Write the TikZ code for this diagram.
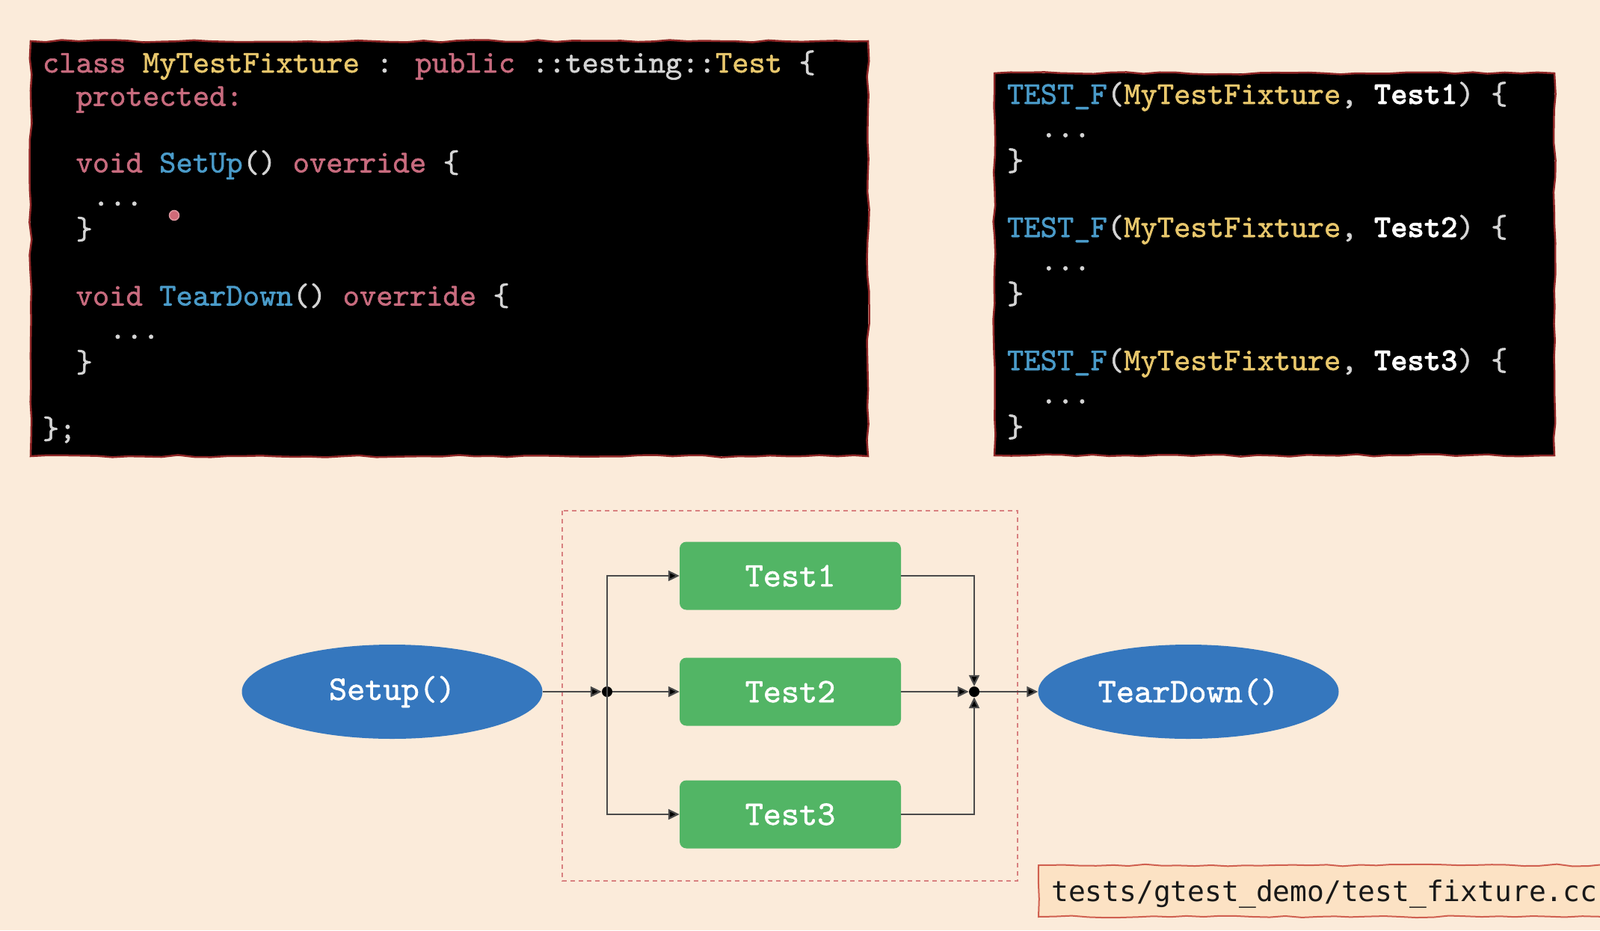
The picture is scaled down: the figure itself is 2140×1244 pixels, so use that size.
\documentclass[tikz,border=0pt]{standalone}
\usepackage{fontspec}
\usetikzlibrary{shapes.geometric,arrows.meta,decorations.pathmorphing}
\newfontfamily\codefont[FakeBold=1.3, BoldFont=lmmonolt10-bold.otf, BoldFeatures={FakeBold=1.6}]{lmmono10-regular.otf}
\newfontfamily\pathfont{DejaVu Sans Mono}
\definecolor{bgc}{HTML}{FBEBDA}
\definecolor{kwc}{HTML}{C86B7E}
\definecolor{tyc}{HTML}{E8C76C}
\definecolor{fnc}{HTML}{4A9BC9}
\definecolor{plc}{HTML}{D4D4D4}
\definecolor{roughc}{HTML}{8E2626}
\definecolor{greenc}{HTML}{52B565}
\definecolor{bluec}{HTML}{3577BE}
\definecolor{dashc}{HTML}{D88080}
\definecolor{linec}{HTML}{4A4A4A}
\definecolor{labelfill}{HTML}{FCE2C4}
\definecolor{labeledge}{HTML}{D06050}
\definecolor{laserc}{HTML}{D06A78}
\newcommand{\kw}[1]{\textcolor{kwc}{#1}}
\newcommand{\ty}[1]{\textcolor{tyc}{#1}}
\newcommand{\fnn}[1]{\textcolor{fnc}{#1}}
\newcommand{\pl}[1]{\textcolor{plc}{#1}}
\newcommand{\tn}[1]{\textcolor{white}{\bfseries #1}}
\tikzset{
  codeline/.style={anchor=base west, inner sep=0pt, outer sep=0pt,
    font=\codefont\fontsize{42.5}{48}\selectfont},
  rough/.style={draw=roughc, line width=2.5pt,
    decorate, decoration={random steps, segment length=22pt, amplitude=1.6pt}},
  testbox/.style={rectangle, rounded corners=9pt, fill=greenc, text=white,
    minimum width=296pt, minimum height=91pt, inner sep=0pt,
    font=\codefont\fontsize{46}{52}\selectfont},
  fnell/.style={ellipse, fill=bluec, text=white, minimum width=402pt,
    minimum height=126pt, inner sep=0pt,
    font=\codefont\fontsize{46}{52}\selectfont},
  jdot/.style={circle, fill=black, inner sep=0pt, minimum size=14pt},
  conn/.style={draw=linec, line width=2.2pt,
    -{Triangle[length=15pt,width=14pt,fill=black]}},
}
\begin{document}
\begin{tikzpicture}[x=1pt,y=-1pt]
\clip (0,0) rectangle (2140,1244);
\fill[bgc] (0,0) rectangle (2140,1244);

% left code box
\fill[black] (41,55) rectangle (1161,610);
\draw[rough] (41,55) rectangle (1161,610);
\node[codeline] (l0) at (57,97) {\kw{class} \ty{MyTestFixture} \pl{:} \kw{public} \pl{::testing::}\ty{Test} \pl{\{}};
\node[codeline] (l1) at (101.6,141.5) {\kw{protected:}};
\node[codeline] (l3) at (101.6,230.5) {\kw{void} \fnn{SetUp}\pl{()} \kw{override} \pl{\{}};
\node[codeline] (l4) at (124,275) {\pl{...}};
\node[codeline] (l5) at (101.6,319.5) {\pl{\}}};
\node[codeline] (l7) at (101.6,408.5) {\kw{void} \fnn{TearDown}\pl{()} \kw{override} \pl{\{}};
\node[codeline] (l8) at (146.3,453) {\pl{...}};
\node[codeline] (l9) at (101.6,497.5) {\pl{\}}};
\node[codeline] (l11) at (57,586.5) {\pl{\};}};
\node[circle, fill=laserc, draw=laserc!70!white, line width=1.5pt, minimum size=13pt, inner sep=0pt] (laser) at (233,288) {};

% right code box
\fill[black] (1330,98) rectangle (2079,609);
\draw[rough] (1330,98) rectangle (2079,609);
\node[codeline] (r0) at (1347,139) {\fnn{TEST\_F}\pl{(}\ty{MyTestFixture}\pl{,} \tn{Test1}\pl{)} \pl{\{}};
\node[codeline] (r1) at (1391.6,183.5) {\pl{...}};
\node[codeline] (r2) at (1347,228) {\pl{\}}};
\node[codeline] (r4) at (1347,317) {\fnn{TEST\_F}\pl{(}\ty{MyTestFixture}\pl{,} \tn{Test2}\pl{)} \pl{\{}};
\node[codeline] (r5) at (1391.6,361.5) {\pl{...}};
\node[codeline] (r6) at (1347,406) {\pl{\}}};
\node[codeline] (r8) at (1347,495) {\fnn{TEST\_F}\pl{(}\ty{MyTestFixture}\pl{,} \tn{Test3}\pl{)} \pl{\{}};
\node[codeline] (r9) at (1391.6,539.5) {\pl{...}};
\node[codeline] (r10) at (1347,584) {\pl{\}}};

% dashed group
\draw[dashc, line width=1.8pt, dash pattern=on 6pt off 5pt] (752,683) rectangle (1361,1178);

% diagram
\node[fnell] (setup) at (524.5,925) {Setup()};
\node[fnell] (teardown) at (1589.5,925) {TearDown()};
\node[testbox] (t1) at (1057,770) {Test1};
\node[testbox] (t2) at (1057,925) {Test2};
\node[testbox] (t3) at (1057,1089) {Test3};
\node[jdot] (jl) at (812,925) {};
\node[jdot] (jr) at (1303,925) {};

\draw[conn] (setup) -- (jl);
\draw[conn] (jl.center) |- (t1);
\draw[conn] (jl) -- (t2);
\draw[conn] (jl.center) |- (t3);
\draw[conn] (t1) -| (jr);
\draw[conn] (t2) -- (jr);
\draw[conn] (t3) -| (jr);
\draw[conn] (jr) -- (teardown);

% file label
\fill[labelfill] (1389,1157) rectangle (2170,1226);
\draw[draw=labeledge, line width=2pt, decorate, decoration={random steps, segment length=22pt, amplitude=1.5pt}] (1389,1157) rectangle (2170,1226);
\node[anchor=base west, inner sep=0pt, text=black!90, font=\pathfont\fontsize{37.9}{44}\selectfont] (path) at (1406,1205) {tests/gtest\_demo/test\_fixture.cc};
\end{tikzpicture}
\end{document}
